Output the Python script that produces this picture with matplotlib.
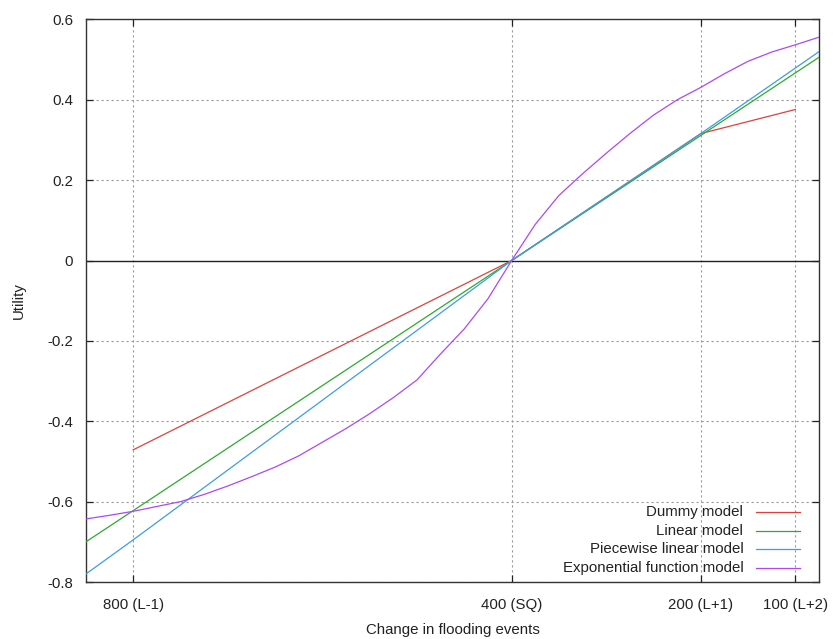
import matplotlib
matplotlib.use("Agg")
import matplotlib.pyplot as plt
from matplotlib.lines import Line2D

plt.rcParams['font.family'] = ['Liberation Sans', 'DejaVu Sans']

# Number of flooding events (x) and the utility of each model
dummy_x = [800, 400, 200, 100]
dummy_y = [-0.471, 0.0, 0.316, 0.376]

linear_x = [850, 400, 75]
linear_y = [-0.700, 0.0, 0.506]

piecewise_x = [850, 800, 400, 200, 75]
piecewise_y = [-0.780, -0.695, 0.0, 0.316, 0.520]

expo_x = [850, 825, 800, 775, 750, 725, 700, 675, 650, 625, 600, 575, 550,
          525, 500, 475, 450, 425, 400, 375, 350, 325, 300, 275, 250, 225,
          200, 175, 150, 125, 100, 75]
expo_y = [-0.643, -0.634, -0.624, -0.612, -0.600, -0.582, -0.561, -0.538,
          -0.514, -0.486, -0.452, -0.418, -0.381, -0.341, -0.297, -0.232,
          -0.170, -0.095, 0.0, 0.090, 0.162, 0.216, 0.267, 0.316, 0.362,
          0.400, 0.431, 0.465, 0.496, 0.519, 0.537, 0.556]

tick_pos = [800, 400, 200, 100]
tick_labels = ['800 (L-1)', '400 (SQ)', '200 (L+1)', '100 (L+2)']
y_ticks = [-0.8, -0.6, -0.4, -0.2, 0, 0.2, 0.4, 0.6]
y_labels = ['-0.8', '-0.6', '-0.4', '-0.2', '0', '0.2', '0.4', '0.6']

series = [
    ('Dummy model', dummy_x, dummy_y, '#e0403a'),
    ('Linear model', linear_x, linear_y, '#2eaa2e'),
    ('Piecewise linear model', piecewise_x, piecewise_y, '#3c9ee6'),
    ('Exponential function model', expo_x, expo_y, '#b048f0'),
]

FS = 10.8
TXT = '#222222'

fig = plt.figure(figsize=(8.37, 6.39), dpi=100)
ax = fig.add_axes([0.1027, 0.0892, 0.8758, 0.8803])

ax.set_xlim(850, 75)
ax.set_ylim(-0.8, 0.6)

# dotted grid, solid zero line
for xv in tick_pos:
    ax.axvline(xv, color='#9a9a9a', lw=0.8, ls=(0, (2, 2.5)), zorder=1)
for yv in y_ticks:
    if yv != 0:
        ax.axhline(yv, color='#9a9a9a', lw=0.8, ls=(0, (2, 2.5)), zorder=1)
ax.axhline(0, color='#222222', lw=1.0, zorder=2)

for name, xs, ys, col in series:
    ax.plot(xs, ys, color=col, lw=0.9, zorder=3)

ax.set_xticks(tick_pos)
ax.set_xticklabels(tick_labels)
ax.set_yticks(y_ticks)
ax.set_yticklabels(y_labels)
ax.tick_params(direction='in', length=5, width=0.9, color='#222222',
               labelsize=FS, labelcolor=TXT, top=True, right=True)
ax.tick_params(axis='y', pad=9.4)
ax.tick_params(axis='x', pad=11.5)
for sp in ax.spines.values():
    sp.set_color('#333333')
    sp.set_linewidth(1.0)

ax.set_xlabel('Change in flooding events', fontsize=FS, color=TXT, labelpad=8)
ax.set_ylabel('Utility', fontsize=FS, color=TXT, labelpad=15)

# legend: right-aligned labels with line samples to their right
for i, (name, xs, ys, col) in enumerate(series):
    yy = 0.1244 - i * 0.0329
    ax.text(0.8967, yy, name, transform=ax.transAxes, ha='right', va='center',
            fontsize=FS, color=TXT)
    ax.add_line(Line2D([0.914, 0.974], [yy, yy], transform=ax.transAxes,
                       color=col, lw=0.9))

fig.savefig('out.png', dpi=100)
